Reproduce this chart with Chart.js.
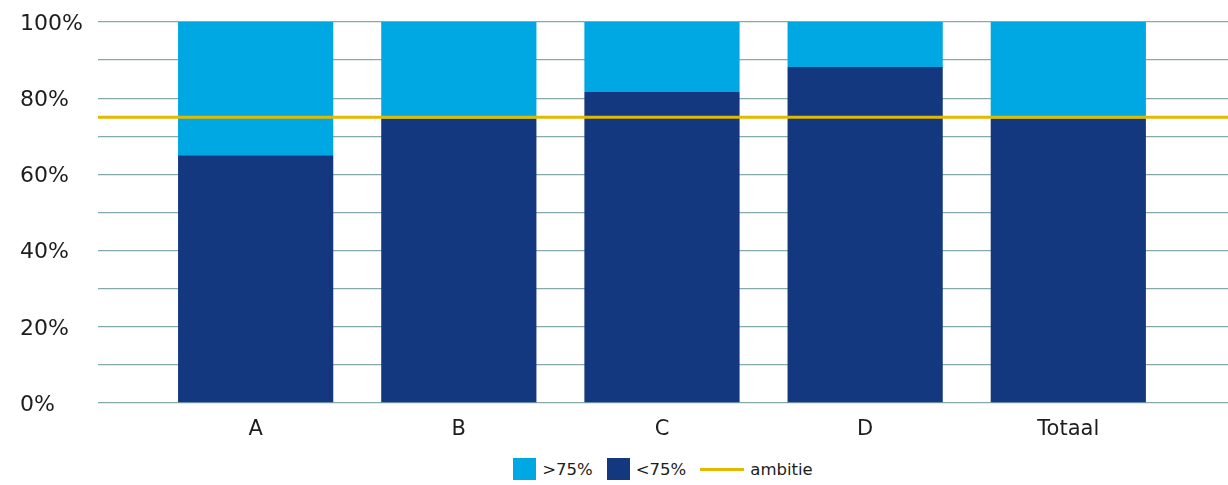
<!DOCTYPE html>
<html lang="nl">
<head>
<meta charset="utf-8">
<title>Aandeel per onderdeel</title>
<script src="https://cdn.jsdelivr.net/npm/chart.js@4/dist/chart.umd.min.js"></script>
<style>
  html, body { margin: 0; padding: 0; background: #ffffff; }
  body { width: 1228px; height: 485px; overflow: hidden; font-family: "DejaVu Sans", sans-serif; color: #1d1d1b; }
  #wrap { position: relative; width: 1228px; height: 445px; }
  #legend {
    position: absolute; left: 98px; top: 456px; width: 1130px; height: 26px;
    display: flex; justify-content: center; align-items: center; font-size: 16.5px; color: #1d1d1b;
  }
  .item { display: flex; align-items: center; margin: 0 7px; }
  .box { width: 23px; height: 22px; margin-right: 6px; }
  .line { width: 44px; height: 3px; margin-right: 6px; }
</style>
</head>
<body>
<div id="wrap"><canvas id="chart"></canvas></div>
<div id="legend"></div>
<script>
// Categories and shares (percent of total)
const categories = ['A', 'B', 'C', 'D', 'Totaal'];
const below75 = [65, 74.6, 81.6, 88.2, 74.7];      // <75%
const above75 = [35, 25.4, 18.4, 11.8, 25.3];      // >75%
const ambitie = 75;                                 // target line
const yTicks = [0, 20, 40, 60, 80, 100];

const COLORS = { dark: '#14387f', light: '#00a8e3', target: '#e3b900', grid: '#86a9ab', text: '#1d1d1b' };

// x axis runs a bit past the first and last category so the grid spans the full width
const X_MIN = -0.776;
const X_MAX = 4.786;

const toPoints = arr => arr.map((v, i) => ({ x: i, y: v }));

const chart = new Chart(document.getElementById('chart'), {
  data: {
    datasets: [
      {
        type: 'bar', label: '<75%', data: toPoints(below75),
        backgroundColor: COLORS.dark, stack: 'share', order: 2,
        categoryPercentage: 1, barPercentage: 0.764
      },
      {
        type: 'bar', label: '>75%', data: toPoints(above75),
        backgroundColor: COLORS.light, stack: 'share', order: 2,
        categoryPercentage: 1, barPercentage: 0.764
      },
      {
        type: 'line', label: 'ambitie',
        data: [{ x: X_MIN, y: ambitie }, { x: X_MAX, y: ambitie }],
        borderColor: COLORS.target, borderWidth: 3, pointRadius: 0,
        stack: 'target', order: 0, tension: 0
      }
    ]
  },
  options: {
    responsive: true,
    maintainAspectRatio: false,
    animation: false,
    layout: { padding: { left: 20, top: 22, right: 0, bottom: 0 } },
    plugins: { legend: { display: false }, tooltip: { enabled: false } },
    scales: {
      x: {
        type: 'linear', stacked: true, min: X_MIN, max: X_MAX, offset: false,
        grid: { display: false, drawTicks: false, offset: false },
        border: { display: false },
        afterBuildTicks: scale => { scale.ticks = categories.map((_, i) => ({ value: i })); },
        afterFit: scale => { scale.height = 42; },
        ticks: {
          padding: 14, color: COLORS.text,
          font: { family: 'DejaVu Sans', size: 21 },
          callback: v => categories[v] ?? ''
        }
      },
      y: {
        type: 'linear', stacked: true, min: 0, max: 100,
        afterBuildTicks: scale => {
          const t = [];
          for (let v = 0; v <= 100; v += 10) t.push({ value: v });
          scale.ticks = t;
        },
        afterFit: scale => { scale.width = 78; },
        grid: { color: COLORS.grid, lineWidth: 1.3, drawTicks: false },
        border: { display: false },
        ticks: {
          crossAlign: 'far', padding: 0, labelOffset: 2, color: COLORS.text,
          font: { family: 'DejaVu Sans', size: 22 },
          callback: v => yTicks.includes(v) ? v + '%' : ''
        }
      }
    }
  }
});

// Legend built from the datasets
const legendOrder = [1, 0, 2];
const legend = document.getElementById('legend');
legendOrder.forEach(i => {
  const ds = chart.data.datasets[i];
  const item = document.createElement('div');
  item.className = 'item';
  const mark = document.createElement('span');
  if (ds.type === 'line') { mark.className = 'line'; mark.style.background = ds.borderColor; }
  else { mark.className = 'box'; mark.style.background = ds.backgroundColor; }
  const label = document.createElement('span');
  label.textContent = ds.label;
  item.appendChild(mark);
  item.appendChild(label);
  legend.appendChild(item);
});
</script>
</body>
</html>
